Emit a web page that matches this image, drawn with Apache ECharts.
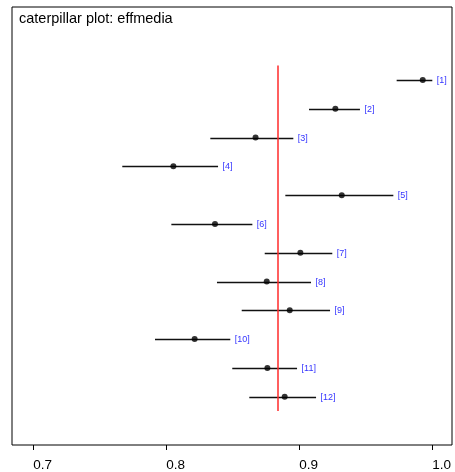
<!DOCTYPE html>
<html>
<head>
<meta charset="utf-8">
<script src="https://cdn.jsdelivr.net/npm/echarts@6/dist/echarts.min.js"></script>
<style>html,body{margin:0;padding:0;background:#fff}#c{width:455px;height:472px}</style>
</head>
<body>
<div id="c"></div>
<script>
var titleText = 'caterpillar plot: effmedia';
var labels = ['[1]','[2]','[3]','[4]','[5]','[6]','[7]','[8]','[9]','[10]','[11]','[12]'];
var means = [0.9928,0.9271,0.8671,0.8053,0.9319,0.8366,0.9008,0.8755,0.8928,0.8213,0.8760,0.8890];
var lows  = [0.9732,0.9073,0.8331,0.7669,0.8895,0.8038,0.8740,0.8381,0.8567,0.7915,0.8496,0.8624];
var highs = [1.0000,0.9456,0.8955,0.8389,0.9707,0.8647,0.9248,0.9088,0.9231,0.8481,0.8983,0.9126];
var refValue = 0.884;
var xTicks = [0.7, 0.8, 0.9, 1.0];

var rows = labels.map(function (l, i) { return [lows[i], highs[i], i + 1, l]; });
var pts = means.map(function (m, i) { return [m, i + 1]; });

var chart = echarts.init(document.getElementById('c'), null, {renderer: 'canvas'});
chart.setOption({
  animation: false,
  backgroundColor: '#fff',
  title: {
    text: titleText, left: 19, top: 11, padding: 0,
    textStyle: {fontFamily: 'Liberation Sans, Arial, sans-serif', fontSize: 14.5, fontWeight: 'normal', color: '#000'}
  },
  grid: {left: 12, right: 3, top: 7, bottom: 27, show: true, borderColor: '#000', borderWidth: 1, backgroundColor: '#fff'},
  xAxis: {
    type: 'value', min: 0.68398, max: 1.01481, position: 'bottom',
    axisLine: {show: false, onZero: false},
    splitLine: {show: false},
    axisTick: {show: true, customValues: xTicks, length: 5, lineStyle: {color: '#000', width: 1}},
    axisLabel: {customValues: xTicks, margin: 13, fontSize: 13.5, color: '#000', align: 'left',
      fontFamily: 'Liberation Sans, Arial, sans-serif',
      formatter: function (v) { return Number(v).toFixed(1); }}
  },
  yAxis: {
    type: 'value', inverse: true, min: -1.5356, max: 13.678, show: false
  },
  series: [
    {
      type: 'custom',
      data: rows,
      renderItem: function (params, api) {
        var a = api.coord([api.value(0), api.value(2)]);
        var b = api.coord([api.value(1), api.value(2)]);
        var y = Math.round(a[1]) + 0.5;
        return {
          type: 'group',
          children: [
            {type: 'line', shape: {x1: a[0], y1: y, x2: b[0], y2: y},
             style: {stroke: '#111', lineWidth: 1.4}},
            {type: 'text', x: b[0] + 4.5, y: a[1] + 0.5,
             style: {text: labels[params.dataIndex], fill: '#3535ff', fontSize: 9,
               fontFamily: 'Liberation Sans, Arial, sans-serif', verticalAlign: 'middle', align: 'left'}}
          ]
        };
      }
    },
    {
      type: 'scatter',
      data: pts,
      symbol: 'circle',
      symbolSize: 6,
      itemStyle: {color: '#000'},
      z: 5,
      markLine: {
        silent: true, symbol: 'none', animation: false,
        label: {show: false},
        lineStyle: {color: '#ff2a2a', width: 1.5, type: 'solid'},
        data: [[{coord: [refValue, 0.5]}, {coord: [refValue, 12.5]}]]
      }
    }
  ]
});
</script>
</body>
</html>
